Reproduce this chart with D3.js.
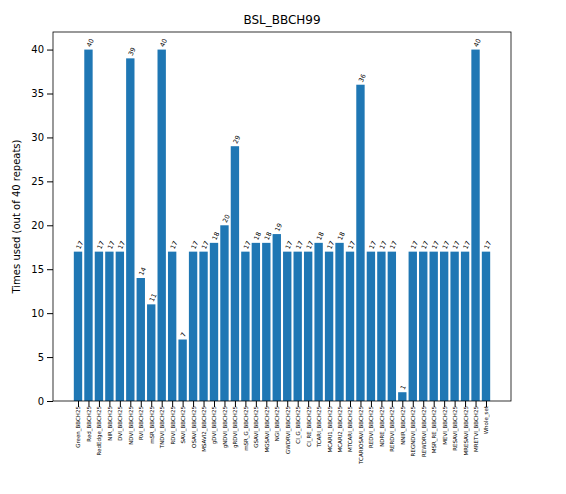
<!DOCTYPE html>
<html><head><meta charset="utf-8">
<script src="https://cdn.jsdelivr.net/npm/d3@7"></script>
<style>body{margin:0;background:#fff;font-family:"DejaVu Sans",sans-serif;}</style>
</head><body><div id="chart"></div>
<script>
const categories = ["Green_BBCH25","Red_BBCH25","RedEdge_BBCH25","NIR_BBCH25","DVI_BBCH25","NDVI_BBCH25","RVI_BBCH25","mSR_BBCH25","TNDVI_BBCH25","RDVI_BBCH25","SAVI_BBCH25","OSAVI_BBCH25","MSAVI2_BBCH25","gDVI_BBCH25","gNDVI_BBCH25","gRDVI_BBCH25","mSR_G_BBCH25","GSAVI_BBCH25","MGSAVI_BBCH25","NGI_BBCH25","GWDRVI_BBCH25","CI_G_BBCH25","CI_RE_BBCH25","TCARI_BBCH25","MCARI1_BBCH25","MCARI2_BBCH25","MTCARI_BBCH25","TCARIOSAVI_BBCH25","REDVI_BBCH25","NDRE_BBCH25","RERDVI_BBCH25","NNIR_BBCH25","REGNDVI_BBCH25","REWDRVI_BBCH25","MSR_RE_BBCH25","MEVI_BBCH25","RESAVI_BBCH25","MRESAVI_BBCH25","MRETVI_BBCH25","Whole_set"];
const timesUsed = [17,40,17,17,17,39,14,11,40,17,7,17,17,18,20,29,17,18,18,19,17,17,17,18,17,18,17,36,17,17,17,1,17,17,17,17,17,17,40,17];
const yTicks = [0,5,10,15,20,25,30,35,40];

const margin = {top: 32, right: 55, bottom: 93, left: 53};
const W = 566, H = 494;
const width = W - margin.left - margin.right, height = H - margin.top - margin.bottom;
const svg = d3.select("#chart").append("svg").attr("width", W).attr("height", H);
const g = svg.append("g").attr("transform", `translate(${margin.left},${margin.top})`);

const n = categories.length;
const pad = (n - 1 + 0.8) * 0.05;
const x = d3.scaleLinear().domain([-0.4 - pad, n - 1 + 0.4 + pad]).range([0, width]);
const y = d3.scaleLinear().domain([0, 42]).range([height, 0]);

g.selectAll("rect.bar").data(timesUsed).enter().append("rect")
  .attr("x", (d, i) => x(i - 0.4))
  .attr("width", x(0.8) - x(0))
  .attr("y", d => y(d))
  .attr("height", d => height - y(d))
  .attr("fill", "#1f77b4");

g.selectAll("text.val").data(timesUsed).enter().append("text")
  .attr("transform", (d, i) => `translate(${x(i) + 2},${y(d) - 2}) rotate(-65)`)
  .attr("text-anchor", "start")
  .attr("font-size", 6.5)
  .text(d => d);

const xAxis = g.append("g").attr("transform", `translate(0,${height})`)
  .call(d3.axisBottom(x).tickValues(d3.range(n)).tickFormat(i => categories[i]).tickSizeOuter(0));
xAxis.selectAll("text").attr("font-size", 5.5).attr("font-family", "DejaVu Sans")
  .attr("transform", "rotate(-90)").attr("text-anchor", "end")
  .attr("x", -5).attr("y", 0).attr("dy", "0.35em");

const yAxis = g.append("g").call(d3.axisLeft(y).tickValues(yTicks).tickSizeOuter(0));
yAxis.selectAll("text").attr("font-size", 10).attr("font-family", "DejaVu Sans");
svg.selectAll(".domain").remove();

g.append("rect").attr("width", width).attr("height", height)
  .attr("fill", "none").attr("stroke", "#000").attr("stroke-width", 0.8);

svg.append("text").attr("x", margin.left + width / 2).attr("y", 24)
  .attr("text-anchor", "middle").attr("font-size", 12).text("BSL_BBCH99");
svg.append("text").attr("transform", `translate(20,${margin.top + height / 2}) rotate(-90)`)
  .attr("text-anchor", "middle").attr("font-size", 10).text("Times used (out of 40 repeats)");
</script></body></html>
